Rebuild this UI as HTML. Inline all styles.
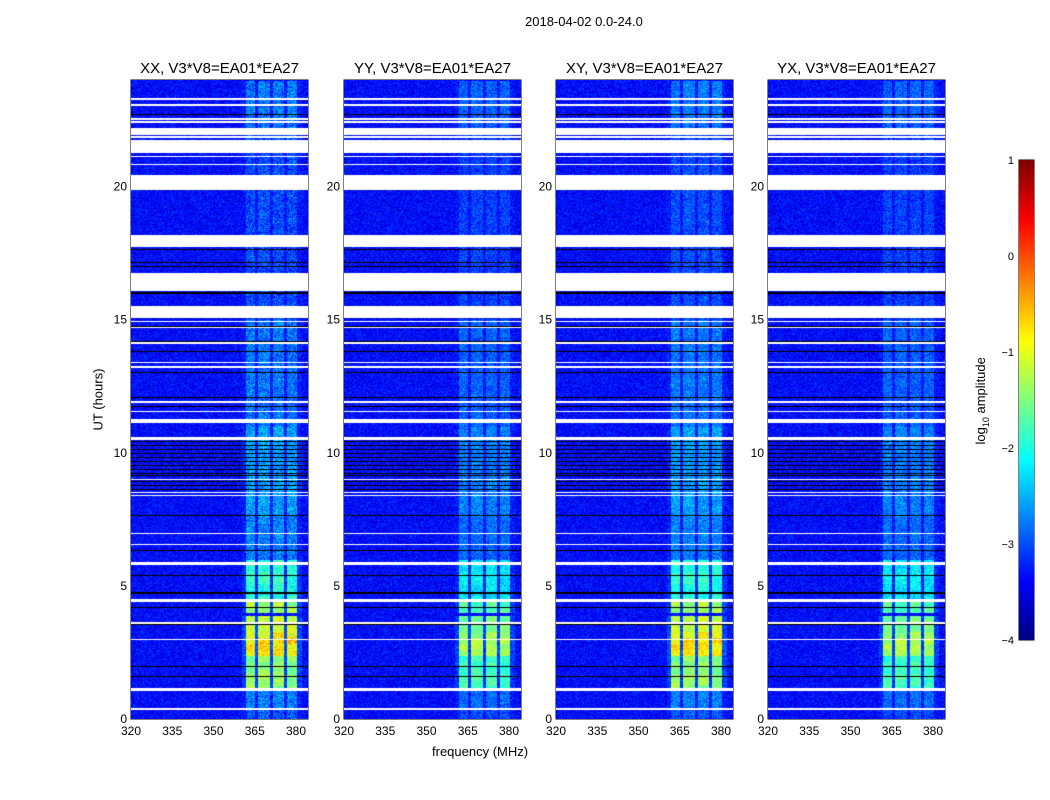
<!DOCTYPE html>
<html><head><meta charset="utf-8"><style>
body{margin:0;background:#fff;width:1050px;height:800px;overflow:hidden;font-family:"Liberation Sans",sans-serif;position:relative}
.t{position:absolute;font-size:13px;color:#000;white-space:nowrap}
canvas{position:absolute}
</style></head><body>
<div class="t" style="left:525px;top:14px">2018-04-02 0.0-24.0</div>
<div class="t" style="left:60px;top:392px;transform:rotate(-90deg);transform-origin:center;width:76px;text-align:center">UT (hours)</div>
<div class="t" style="left:432px;top:744px">frequency (MHz)</div>
<div class="t" style="left:932px;top:392px;transform:rotate(-90deg);width:100px;text-align:center">log<sub style="font-size:9px">10</sub> amplitude</div>
<svg id="ax" width="1050" height="800" style="position:absolute;left:0;top:0"></svg>
<script>
const panels=["XX","YY","XY","YX"];
const panelScale=[1.0,0.8,1.0,0.8];
const flags=[[23.25,23.35],[23.04,23.12],[22.5,22.6],[22.42,22.48],[21.95,22.2],[21.85,21.9],[21.28,21.76],[21.12,21.18],[20.82,20.88],[19.9,20.45],[17.75,18.2],[16.1,16.77],[15.08,15.53],[14.92,14.97],[14.7,14.76],[14.1,14.16],[13.38,13.44],[13.22,13.28],[11.9,11.95],[11.55,11.6],[11.12,11.3],[10.5,10.62],[9.0,9.05],[8.5,8.56],[8.4,8.45],[6.95,7.0],[6.55,6.6],[5.82,5.9],[4.42,4.52],[3.6,3.66],[2.97,3.03],[1.08,1.18],[0.37,0.43]];
const blacks=[22.74,17.65,17.15,17.0,16.02,15.3,14.75,14.2,13.82,13.05,12.1,11.95,11.75,10.45,10.3,10.15,10.0,9.85,9.7,9.55,9.4,9.25,9.15,8.95,8.8,8.65,7.65,6.35,5.82,5.4,4.75,4.2,3.57,2.0,1.6];
const bands=[[361.5,365],[366,370.5],[371.5,375.5],[376.5,380]];
const actT=[[22,24],[15,22],[11,15],[7.6,11],[6,7.6],[4.5,6],[4.0,4.5],[3.3,3.9],[2.4,3.3],[1.2,2.4],[0.4,1.2],[0,0.4]];
const actV=[0.55,0.35,0.55,0.75,0.6,1.4,2.0,2.2,2.5,1.9,0.6,0.4];
const yTicks=[0,5,10,15,20];
const xTicks=[320,335,350,365,380];
const cbTicks=[1,0,-1,-2,-3,-4];
const W=177,Y0=80,H=639,LEFTS=[131,344,556,768];
const fx=f=>(f-320)*2.75, fy=h=>H-h*26.625;
function jet(v){let t=(v+4)/5;t=Math.max(0,Math.min(1,t));
 const c=x=>Math.max(0,Math.min(1,1.5-Math.abs(4*t-x)));
 return [c(3)*255,c(2)*255,c(1)*255];}
function hash(a,b){let h=(a*374761393+b*668265263)|0;h=(h^(h>>13))*1274126177|0;return ((h^(h>>16))&1023)/1023;}
const svg=document.getElementById('ax');const NS='http://www.w3.org/2000/svg';
function el(t,a,p){const e=document.createElementNS(NS,t);for(const k in a)e.setAttribute(k,a[k]);(p||svg).appendChild(e);return e;}
panels.forEach((p,pi)=>{
 const L=LEFTS[pi];
 const cv=document.createElement('canvas');cv.width=W;cv.height=H;cv.style.left=L+'px';cv.style.top=Y0+'px';
 
 
 document.body.appendChild(cv);
 const ctx=cv.getContext('2d');const img=ctx.createImageData(W,H);
 for(let y=0;y<H;y++){const h=(H-y)/26.625;
  let white=flags.some(f=>h>=f[0]&&h<=f[1]);
  let black=blacks.some(b=>Math.abs(h-b)<0.02);
  let act=0;for(let i=0;i<actT.length;i++)if(h>=actT[i][0]&&h<actT[i][1]){act=actV[i];break;}
  for(let x=0;x<W;x++){const f=320+x/2.75;let r,g,b;
   if(white){r=g=b=255;}else if(black){r=g=b=0;}else{
    let v=-3.35+(hash(x+pi*500,y)-0.5)*0.6;
    let inb=bands.findIndex(bb=>f>=bb[0]&&f<=bb[1]);
    if(inb>=0){v+=act*panelScale[pi]*(0.9+0.2*hash(inb,Math.floor(y/6)))+(hash(x,y+pi)-0.5)*0.25;}
    else if(f>360&&f<382)v+=0.15*act*panelScale[pi];
    if(v>1)v=1;[r,g,b]=jet(v);}
   const k=(y*W+x)*4;img.data[k]=r;img.data[k+1]=g;img.data[k+2]=b;img.data[k+3]=255;}}
 ctx.putImageData(img,0,0);
 el('rect',{x:L,y:Y0,width:W,height:H,fill:'none',stroke:'#000','stroke-width':1,});
 const tt=el('text',{x:L+W/2,y:73,'text-anchor':'middle','font-size':15,'font-family':'Liberation Sans'});
 tt.textContent=p+', V3*V8=EA01*EA27';
 yTicks.forEach(v=>{const y=Y0+fy(v);
  el('line',{x1:L,x2:L+5,y1:y,y2:y,stroke:'#000'});el('line',{x1:L+W-5,x2:L+W,y1:y,y2:y,stroke:'#000'});
  const t=el('text',{x:L-4,y:y+4,'text-anchor':'end','font-size':12,'font-family':'Liberation Sans'});t.textContent=v;
  });
 xTicks.forEach(v=>{const x=L+fx(v);
  el('line',{x1:x,x2:x,y1:Y0+H,y2:Y0+H-5,stroke:'#000'});el('line',{x1:x,x2:x,y1:Y0,y2:Y0+5,stroke:'#000'});
  const t=el('text',{x:x,y:Y0+H+16,'text-anchor':'middle','font-size':12,'font-family':'Liberation Sans'});t.textContent=v;
  });
});
const cb=document.createElement('canvas');cb.width=15;cb.height=480;cb.style.left='1019px';cb.style.top='160px';


document.body.appendChild(cb);
const cc=cb.getContext('2d');for(let y=0;y<480;y++){const [r,g,b]=jet(1-5*y/480);cc.fillStyle=`rgb(${r|0},${g|0},${b|0})`;cc.fillRect(0,y,15,1);}
el('rect',{x:1019,y:160,width:15,height:480,fill:'none',stroke:'#000'});
cbTicks.forEach(v=>{const y=160+(1-v)/5*480;
 el('line',{x1:1019,x2:1023,y1:y,y2:y,stroke:'#000'});el('line',{x1:1030,x2:1034,y1:y,y2:y,stroke:'#000'});
 const t=el('text',{x:1014,y:y+4,'text-anchor':'end','font-size':11,'font-family':'Liberation Sans'});t.textContent=v<0?'\u2212'+(-v):v;
 });
</script>
</body></html>
